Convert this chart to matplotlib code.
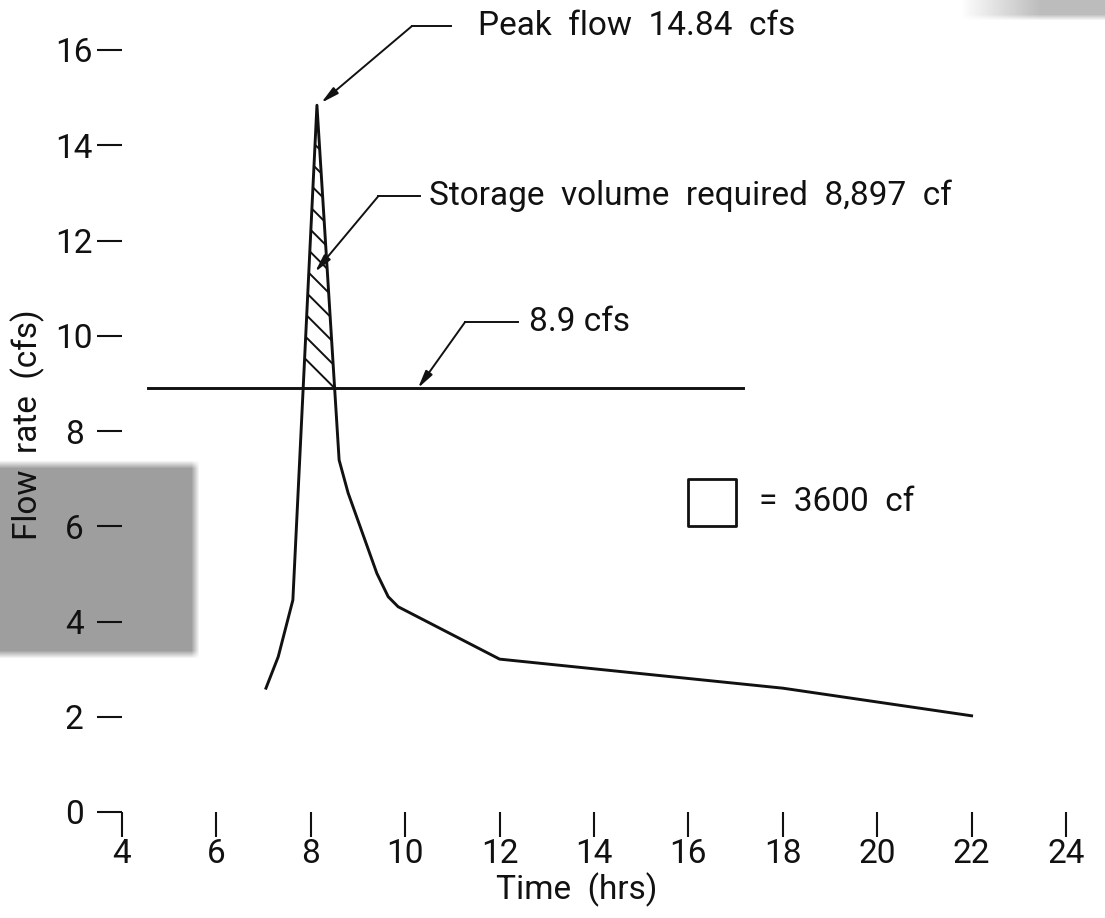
import numpy as np
import matplotlib
matplotlib.use("Agg")
import matplotlib.pyplot as plt
from matplotlib.patches import Rectangle

# Outflow hydrograph (hours, cfs)
time_hrs = [7.05, 7.31, 7.62, 8.13, 8.60, 8.79, 9.40, 9.64, 9.85, 12.0, 18.0, 22.0]
flow_cfs = [2.60, 3.26, 4.45, 14.84, 7.39, 6.70, 5.01, 4.52, 4.31, 3.21, 2.60, 2.02]

release_rate = 8.9            # cfs
release_span = [4.55, 17.16]  # hours covered by the release line
peak_flow = 14.84
storage_cf = "8,897"
unit_box_cf = 3600            # 1 hr x 1 cfs

x_ticks = [4, 6, 8, 10, 12, 14, 16, 18, 20, 22, 24]
y_ticks = [0, 2, 4, 6, 8, 10, 12, 14, 16]

plt.rcParams['font.family'] = ['Roboto', 'DejaVu Sans']
INK = '#111111'

W, H = 1105, 918
fig = plt.figure(figsize=(W / 100, H / 100), dpi=100)
fig.patch.set_facecolor('white')

# --- soft grey smudges on the sheet -------------------------------------
bg = fig.add_axes([0, 0, 1, 1], zorder=0)
bg.set_axis_off()
yy, xx = np.mgrid[0:H, 0:W].astype(float)


def soft_box(x0, x1, y0, y1, feather):
    ax_ = np.clip((xx - x0) / feather, 0, 1) * np.clip((x1 - xx) / feather, 0, 1)
    ay_ = np.clip((yy - y0) / feather, 0, 1) * np.clip((y1 - yy) / feather, 0, 1)
    return ax_ * ay_


shade = np.zeros((H, W))
shade = np.maximum(shade, 0.38 * soft_box(-20, 199, 460, 658, 8))
shade = np.maximum(shade, 0.26 * soft_box(960, 1130, -20, 20, 6) *
                   np.clip((xx - 960) / 80, 0, 1))
img = np.ones((H, W, 3)) * (1 - shade)[..., None]
bg.imshow(img, extent=[0, 1, 0, 1], aspect='auto', interpolation='bilinear')
bg.set_xlim(0, 1)
bg.set_ylim(0, 1)

# --- main axes -------------------------------------------------------------
ax = fig.add_axes([122 / W, 106 / H, 944 / W, 762 / H], zorder=1)
ax.patch.set_alpha(0)
ax.set_xlim(4, 24)
ax.set_ylim(0, 16)
for s in ax.spines.values():
    s.set_visible(False)

ax.set_xticks(x_ticks)
ax.set_yticks(y_ticks)
ax.set_xticklabels([str(v) for v in x_ticks])
ax.set_yticklabels([str(v) for v in y_ticks])
ax.tick_params(axis='both', direction='out', length=18, width=1.5,
               color=INK, labelcolor=INK, labelsize=24)
ax.tick_params(axis='x', pad=1)
ax.tick_params(axis='y', pad=16.5)
for lbl in ax.get_yticklabels():
    lbl.set_horizontalalignment('center')

# hydrograph and release line
t = np.array(time_hrs)
q = np.array(flow_cfs)
ax.plot(t, q, color=INK, lw=2.1, solid_joinstyle='round', zorder=3)
ax.plot(release_span, [release_rate, release_rate], color=INK, lw=2.1, zorder=3)

# storage region above the release rate, hatched with diagonal strokes
poly = ax.fill_between(t, q, release_rate, where=q >= release_rate,
                       interpolate=True, facecolor='none', edgecolor='none')
clip_path = poly.get_paths()[0]

# crossing on the falling limb
x_cross = None
for i in range(len(t) - 1):
    if q[i] >= release_rate > q[i + 1]:
        x_cross = t[i] + (q[i] - release_rate) * (t[i + 1] - t[i]) / (q[i] - q[i + 1])
k = (944 / 20) / (762 / 16)
spacing = 0.47
hx = np.array([6.5, 10.0])
for n in range(0, 16):
    c = release_rate + n * spacing
    line, = ax.plot(hx, c - k * (hx - x_cross), color=INK, lw=1.4, zorder=2)
    line.set_clip_path(clip_path, ax.transData)

# --- callouts ------------------------------------------------------------
arrow = dict(arrowstyle='-|>,head_length=0.7,head_width=0.16', color=INK,
             lw=1.4, shrinkA=0, shrinkB=0, mutation_scale=15)
t_peak = t[int(np.argmax(q))]


def callout(tip, elbow, end_x, text, text_x):
    ax.annotate('', xy=tip, xytext=elbow, arrowprops=arrow,
                annotation_clip=False, zorder=4)
    ax.plot([elbow[0], end_x], [elbow[1], elbow[1]], color=INK, lw=1.4,
            clip_on=False, zorder=4)
    ax.text(text_x, elbow[1], text, fontsize=24, color=INK, ha='left',
            va='center', clip_on=False)


callout((t_peak + 0.09, peak_flow + 0.05), (10.14, 16.50), 10.98,
        f"Peak  flow  {peak_flow:.2f}  cfs", 11.55)
callout((8.09, 11.34), (9.43, 12.93), 10.31,
        f"Storage  volume  required  {storage_cf}  cf", 10.50)
callout((10.27, release_rate), (11.27, 10.29), 12.39,
        f"{release_rate} cfs", 12.62)

# unit-area key: one hour by one cfs
ax.add_patch(Rectangle((16, 6), 1, 1, fill=False, lw=2.0, ec=INK,
                       joinstyle='round', zorder=3))
ax.text(17.5, 6.5, f"=  {unit_box_cf}  cf", fontsize=24, color=INK,
        ha='left', va='center')

# axis titles
fig.text(577 / W, 1 - 890 / H, "Time  (hrs)", fontsize=24, color=INK,
         ha='center', va='center')
fig.text(28 / W, 1 - 425 / H, "Flow  rate  (cfs)", fontsize=24, color=INK,
         ha='center', va='center', rotation=90)

fig.savefig("out.png", dpi=100, facecolor='white')
